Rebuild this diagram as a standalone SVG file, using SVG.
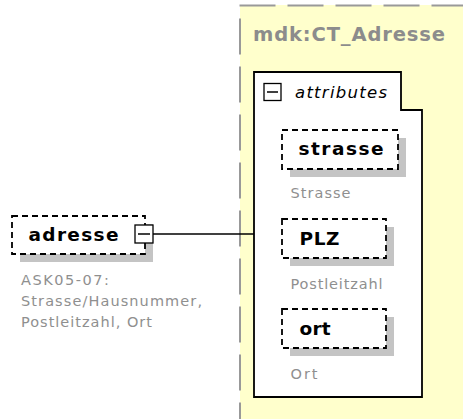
<svg xmlns="http://www.w3.org/2000/svg" width="463" height="419" viewBox="0 0 463 419">
<style>
.bg{fill:#ffffcc}
.border{stroke:#999;stroke-width:2;stroke-dasharray:36 12;fill:none}
.title{font-family:"DejaVu Sans",sans-serif;font-weight:bold;font-size:19.5px;fill:#8c8c8c}
.grp{fill:#fff;stroke:#000;stroke-width:1.8}
.shadow{fill:#c4c4c4}
.box{fill:#fff;stroke:#000;stroke-width:1.8;stroke-dasharray:6 4}
.name{font-family:"DejaVu Sans",sans-serif;font-weight:bold;font-size:18.5px;fill:#000}
.desc{font-family:"DejaVu Sans",sans-serif;font-size:14.5px;fill:#8f8f8f}
.ital{font-family:"DejaVu Sans",sans-serif;font-style:italic;font-size:16.5px;fill:#000}
.icon{fill:#fff;stroke:#000;stroke-width:1.3}
.line{stroke:#000;stroke-width:1.5;fill:none}
</style>
<rect x="0" y="0" width="463" height="419" fill="#fff"/>
<g id="ct_adresse">
<rect class="bg" x="240" y="5" width="223" height="414"/>
<line class="border" x1="239.5" y1="5.5" x2="463" y2="5.5"/>
<line class="border" x1="240" y1="18.5" x2="240" y2="419"/>
<text class="title" x="253" y="41" textLength="192" lengthAdjust="spacing">mdk:CT_Adresse</text>
</g>
<g id="attributes">
<path class="grp" d="M254,72 H401 V110 H422 V397 H254 Z"/>
<rect class="icon" x="264" y="83.5" width="17" height="17"/>
<line class="line" x1="267" y1="92" x2="278" y2="92"/>
<text class="ital" x="295" y="98" textLength="92" lengthAdjust="spacing">attributes</text>
</g>
<g id="connectors">
<line class="line" x1="153" y1="234" x2="254" y2="234"/>
</g>
<g id="adresse">
<rect class="shadow" x="20" y="224" width="133" height="38"/>
<rect class="box" x="12" y="216" width="133" height="38"/>
<text class="name" x="28.5" y="240.5" textLength="90" lengthAdjust="spacing">adresse</text>
<rect class="icon" x="135" y="225" width="18" height="18"/>
<line class="line" x1="138" y1="234" x2="150" y2="234"/>
<text class="desc" x="21" y="285" textLength="88" lengthAdjust="spacing">ASK05-07:</text>
<text class="desc" x="21" y="306" textLength="181" lengthAdjust="spacing">Strasse/Hausnummer,</text>
<text class="desc" x="21" y="327" textLength="131" lengthAdjust="spacing">Postleitzahl, Ort</text>
</g>
<g id="strasse">
<rect class="shadow" x="290" y="138" width="116" height="39"/>
<rect class="box" x="282" y="130" width="116" height="39"/>
<text class="name" x="298.5" y="155" textLength="85" lengthAdjust="spacing">strasse</text>
<text class="desc" x="290.5" y="198" textLength="60" lengthAdjust="spacing">Strasse</text>
</g>
<g id="plz">
<rect class="shadow" x="290" y="227" width="104" height="39"/>
<rect class="box" x="282" y="219" width="104" height="39"/>
<text class="name" x="299.5" y="244.5" textLength="40" lengthAdjust="spacing">PLZ</text>
<text class="desc" x="290.5" y="288.5" textLength="92" lengthAdjust="spacing">Postleitzahl</text>
</g>
<g id="ort">
<rect class="shadow" x="290" y="317" width="104" height="39"/>
<rect class="box" x="282" y="309" width="104" height="39"/>
<text class="name" x="299.5" y="334.5" textLength="31" lengthAdjust="spacing">ort</text>
<text class="desc" x="290.5" y="379" textLength="27" lengthAdjust="spacing">Ort</text>
</g>
</svg>
